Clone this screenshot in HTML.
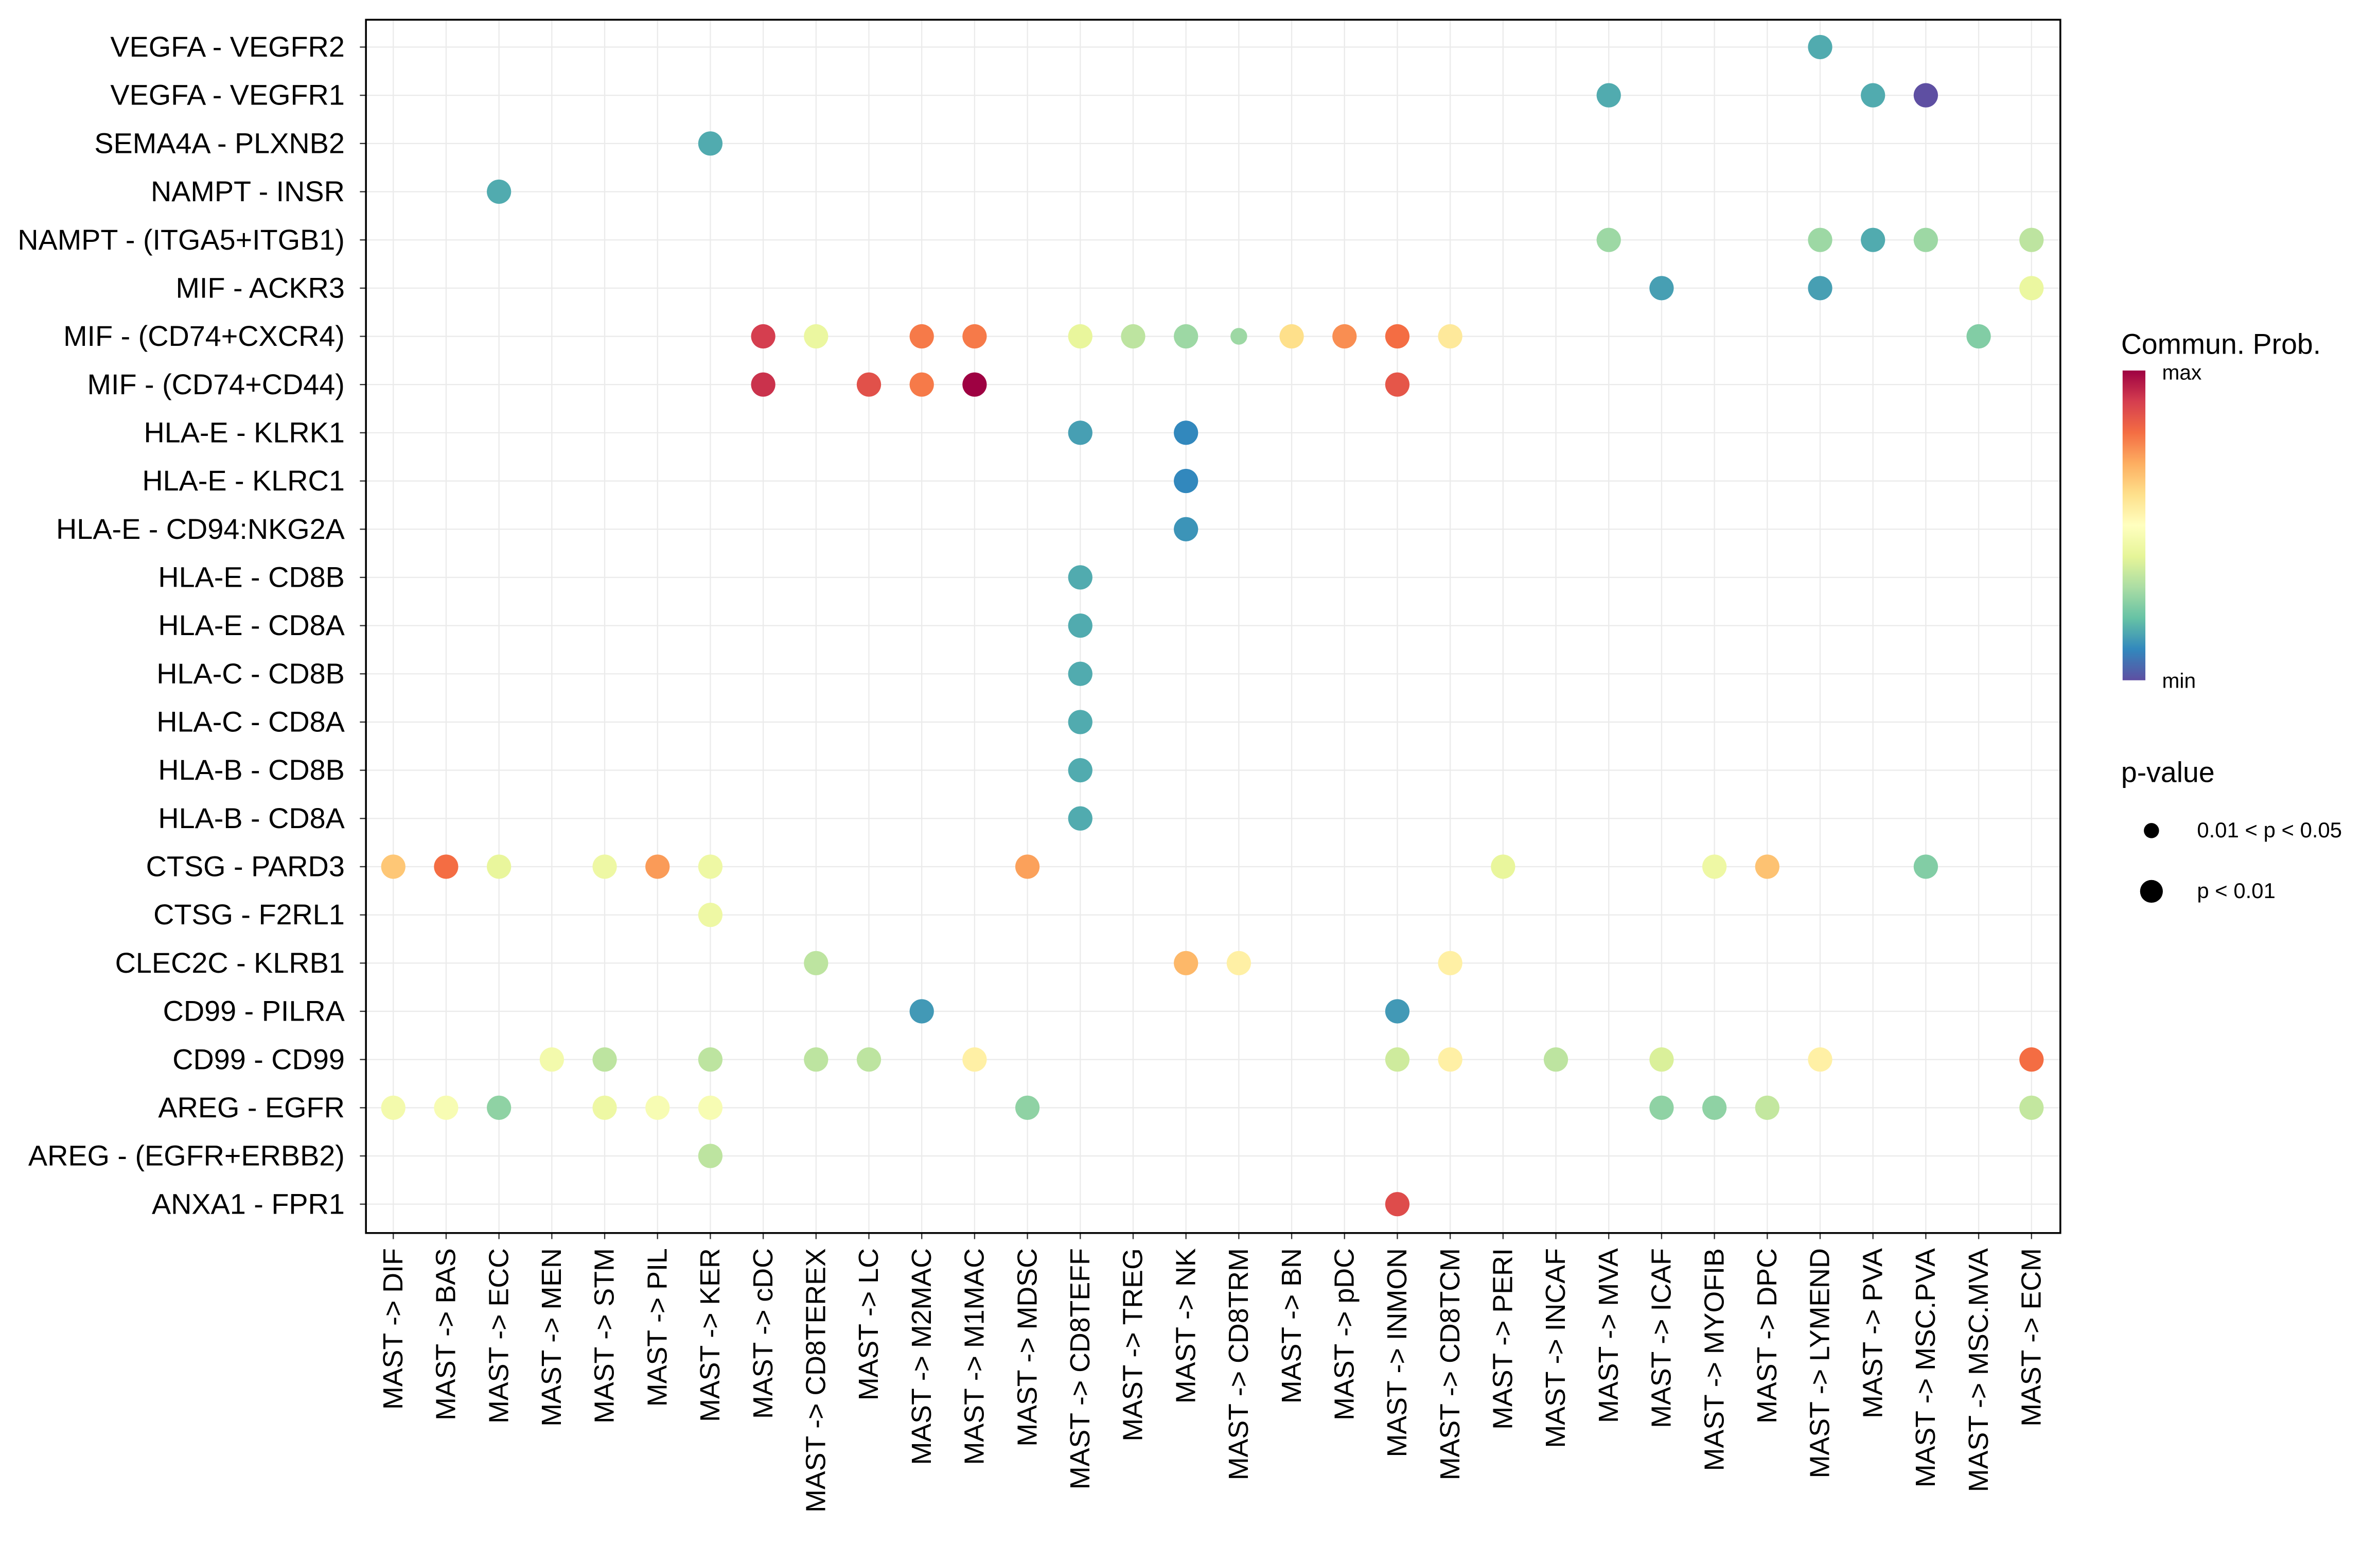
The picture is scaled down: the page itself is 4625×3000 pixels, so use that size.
<!DOCTYPE html>
<html><head><meta charset="utf-8"><style>
html,body{margin:0;padding:0;background:#fff}
svg{display:block}
text{font-family:"Liberation Sans",sans-serif;fill:#000}
</style></head><body>
<svg id="chart" width="4625" height="3000" viewBox="0 0 1567.5 1016.8" xmlns="http://www.w3.org/2000/svg">
<rect x="0" y="0" width="1568" height="1017" fill="#fff"/>
<g id="grid"></g>
<g id="points"></g>
<rect x="241" y="13" width="1116" height="799" fill="none" stroke="#000" stroke-width="1.2"/>
<g id="ylab"></g>
<g id="xlab"></g>
<g id="legend">
<text x="1397" y="233" font-size="18.8">Commun. Prob.</text>
<defs><linearGradient id="cg" x1="0" y1="1" x2="0" y2="0"></linearGradient></defs>
<rect x="1398" y="244" width="15" height="204" fill="url(#cg)"/>
<text x="1424" y="250" font-size="13.8">max</text>
<text x="1424" y="453" font-size="13.8">min</text>
<text x="1397" y="515" font-size="18.8">p-value</text>
<circle cx="1417" cy="547" r="5" fill="#000"/>
<text x="1447" y="551.5" font-size="14.2">0.01 &lt; p &lt; 0.05</text>
<circle cx="1417" cy="587" r="7.5" fill="#000"/>
<text x="1447" y="591.5" font-size="14.2">p &lt; 0.01</text>
</g>
</svg>
<script>
const cols = ["DIF","BAS","ECC","MEN","STM","PIL","KER","cDC","CD8TEREX","LC","M2MAC","M1MAC","MDSC","CD8TEFF","TREG","NK","CD8TRM","BN","pDC","INMON","CD8TCM","PERI","INCAF","MVA","ICAF","MYOFIB","DPC","LYMEND","PVA","MSC.PVA","MSC.MVA","ECM"];
const rows = ["VEGFA - VEGFR2","VEGFA - VEGFR1","SEMA4A - PLXNB2","NAMPT - INSR","NAMPT - (ITGA5+ITGB1)","MIF - ACKR3","MIF - (CD74+CXCR4)","MIF - (CD74+CD44)","HLA-E - KLRK1","HLA-E - KLRC1","HLA-E - CD94:NKG2A","HLA-E - CD8B","HLA-E - CD8A","HLA-C - CD8B","HLA-C - CD8A","HLA-B - CD8B","HLA-B - CD8A","CTSG - PARD3","CTSG - F2RL1","CLEC2C - KLRB1","CD99 - PILRA","CD99 - CD99","AREG - EGFR","AREG - (EGFR+ERBB2)","ANXA1 - FPR1"];
const ptCol = [27, 23,28,29, 6, 2, 23,27,28,29,31, 24,27,31, 7,8,10,11,13,14,15,16,17,18,19,20,30, 7,9,10,11,19, 13,15, 15, 15, 13,13,13,13,13,13, 0,1,2,4,5,6,12,21,25,26,29, 6, 8,15,16,20, 10,19, 3,4,6,8,9,11,19,20,22,24,27,31, 0,1,2,4,5,6,12,24,25,26,31, 6, 19];
const ptRow = [0, 1,1,1, 2, 3, 4,4,4,4,4, 5,5,5, 6,6,6,6,6,6,6,6,6,6,6,6,6, 7,7,7,7,7, 8,8, 9, 10, 11,12,13,14,15,16, 17,17,17,17,17,17,17,17,17,17,17, 18, 19,19,19,19, 20,20, 21,21,21,21,21,21,21,21,21,21,21,21, 22,22,22,22,22,22,22,22,22,22,22, 23, 24];
const ptVal = [0.16, 0.16,0.16,0.0, 0.16, 0.16, 0.28,0.28,0.16,0.28,0.33, 0.14,0.14,0.42, 0.9,0.42,0.78,0.78,0.41,0.33,0.28,0.28,0.6,0.75,0.8,0.57,0.24, 0.92,0.86,0.78,1.0,0.85, 0.14,0.1, 0.1, 0.12, 0.16,0.16,0.16,0.16,0.16,0.16, 0.65,0.8,0.41,0.43,0.73,0.43,0.72,0.41,0.43,0.66,0.24, 0.43, 0.33,0.68,0.55,0.55, 0.13,0.13, 0.45,0.33,0.33,0.33,0.33,0.55,0.36,0.55,0.33,0.38,0.55,0.8, 0.45,0.47,0.26,0.43,0.47,0.47,0.26,0.26,0.26,0.34,0.34, 0.33, 0.87];
const ptSig = ptVal.map((v,i)=> (ptCol[i]===16 && ptRow[i]===6) ? 0 : 1);

const pal = ["#5E4FA2","#3288BD","#66C2A5","#ABDDA4","#E6F598","#FFFFBF","#FEE08B","#FDAE61","#F46D43","#D53E4F","#9E0142"];
function hex(h){return [1,3,5].map(i=>parseInt(h.substr(i,2),16));}
function color(v){
  const t=Math.max(0,Math.min(1,v))*(pal.length-1), i=Math.min(pal.length-2,Math.floor(t)), f=t-i;
  const a=hex(pal[i]), b=hex(pal[i+1]);
  return "rgb("+a.map((c,k)=>Math.round(c+(b[k]-c)*f)).join(",")+")";
}
const x = i => 259 + i*(1338-259)/31;
const y = j => 31 + j*(793-31)/24;
const NS="http://www.w3.org/2000/svg";
function mk(tag, attrs, parent){const e=document.createElementNS(NS,tag);for(const k in attrs)e.setAttribute(k,attrs[k]);parent.appendChild(e);return e;}

const grid=document.getElementById('grid');
cols.forEach((c,i)=>{
  const l=mk('line',{x1:x(i),x2:x(i),y1:13,y2:812,stroke:'#ebebeb','stroke-width':0.8},grid);
  
  
  mk('line',{x1:x(i),x2:x(i),y1:812,y2:816,stroke:'#333','stroke-width':0.8},grid);
});
rows.forEach((r,j)=>{
  const l=mk('line',{x1:241,x2:1357,y1:y(j),y2:y(j),stroke:'#ebebeb','stroke-width':0.8},grid);
  
  
  mk('line',{x1:237,x2:241,y1:y(j),y2:y(j),stroke:'#333','stroke-width':0.8},grid);
});
const yl=document.getElementById('ylab');
rows.forEach((r,j)=>{
  const t=mk('text',{x:227,y:y(j)+6.3,'text-anchor':'end','font-size':18.9},yl);
  t.textContent=r;
  
  
});
const xl=document.getElementById('xlab');
cols.forEach((c,i)=>{
  const t=mk('text',{x:0,y:0,'text-anchor':'end','font-size':18.2,transform:`translate(${x(i)+6},822) rotate(-90)`},xl);
  t.textContent='MAST -> '+c;
  
  
});
const pts=document.getElementById('points');
ptVal.forEach((v,k)=>{
  const c=mk('circle',{cx:x(ptCol[k]),cy:y(ptRow[k]),r:ptSig[k]?8:5.5,fill:color(v)},pts);
  
  
});
const cg=document.getElementById('cg');
pal.forEach((p,i)=>mk('stop',{offset:(i/(pal.length-1)),'stop-color':p},cg));
</script>
</body></html>
